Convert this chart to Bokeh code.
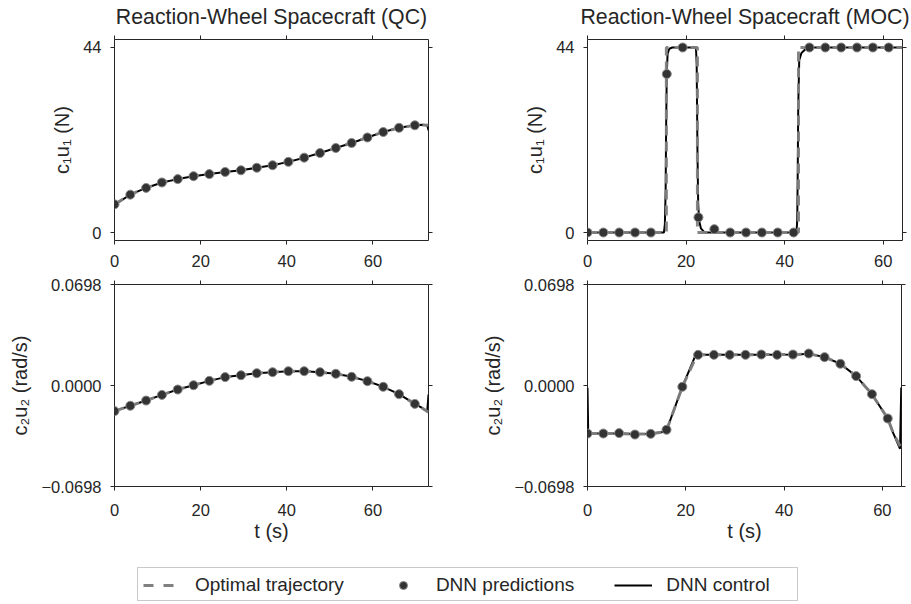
from bokeh.plotting import figure
from bokeh.layouts import column, row
from bokeh.models import (Range1d, FixedTicker, LinearAxis, Legend, LegendItem,
                          CustomLabelingPolicy, BoxAnnotation)
from bokeh.embed import file_html
from bokeh.resources import INLINE

TEXT = "#262626"
FONT = "Liberation Sans"
OPT_COLOR = "#808080"
PRED_FILL = "#333333"
PRED_EDGE = "#8a8a8a"

# ---------------- data ----------------
# QC (quadratic cost)
qc_t_pred = [0.0, 3.67, 7.34, 11.01, 14.68, 18.35, 22.02, 25.69, 29.36, 33.03,
             36.7, 40.37, 44.04, 47.71, 51.38, 55.05, 58.72, 62.39, 66.06, 69.73]
qc_u1_pred = [6.7, 9.0, 10.6, 11.9, 12.7, 13.4, 13.9, 14.4, 14.8, 15.4,
              16.0, 16.8, 17.8, 18.9, 20.1, 21.3, 22.6, 23.9, 24.9, 25.5]
qc_u2_pred = [-0.0177, -0.0140, -0.0104, -0.0065, -0.0028, 0.0002, 0.0032, 0.0058, 0.0071, 0.0085,
              0.0092, 0.0099, 0.0099, 0.0092, 0.0081, 0.0060, 0.0030, -0.0009, -0.0060, -0.0127]

qc_t_opt = [0.0, 3.67, 7.34, 11.01, 14.68, 18.35, 22.02, 25.69, 29.36, 33.03,
            36.7, 40.37, 44.04, 47.71, 51.38, 55.05, 58.72, 62.39, 66.06, 69.73, 71.4, 72.9]
qc_u1_opt = [6.7, 9.0, 10.6, 11.9, 12.7, 13.4, 13.9, 14.4, 14.8, 15.4,
             16.0, 16.8, 17.8, 18.9, 20.1, 21.3, 22.6, 23.9, 24.9, 25.5, 25.6, 25.5]
qc_u2_opt = [-0.0177, -0.0140, -0.0104, -0.0065, -0.0028, 0.0002, 0.0032, 0.0058, 0.0071, 0.0085,
             0.0092, 0.0099, 0.0099, 0.0092, 0.0081, 0.0060, 0.0030, -0.0009, -0.0060, -0.0127,
             -0.0155, -0.0184]

qc_t_ctrl = [0.0, 3.67, 7.34, 11.01, 14.68, 18.35, 22.02, 25.69, 29.36, 33.03,
             36.7, 40.37, 44.04, 47.71, 51.38, 55.05, 58.72, 62.39, 66.06, 69.73, 71.4, 72.6, 72.9]
qc_u1_ctrl = [6.6, 9.0, 10.6, 11.9, 12.7, 13.4, 13.9, 14.4, 14.8, 15.4,
              16.0, 16.8, 17.8, 18.9, 20.1, 21.3, 22.6, 23.9, 24.9, 25.5, 25.6, 25.5, 24.3]
qc_u2_ctrl = [-0.0177, -0.0140, -0.0104, -0.0065, -0.0028, 0.0002, 0.0032, 0.0058, 0.0071, 0.0085,
              0.0092, 0.0099, 0.0099, 0.0092, 0.0081, 0.0060, 0.0030, -0.0009, -0.0060, -0.0127,
              -0.0155, -0.0180, -0.0062]

# MOC
moc_t_pred = [0.0, 3.22, 6.43, 9.65, 12.86, 16.08, 19.3, 22.51, 25.73, 28.94,
              32.16, 35.38, 38.59, 41.81, 45.02, 48.24, 51.46, 54.67, 57.89, 61.1]
moc_u1_pred = [0.0, 0.0, 0.0, 0.0, 0.0, 37.7, 44.0, 3.6, 0.8, 0.0,
               0.0, 0.0, 0.0, 0.0, 44.0, 44.0, 44.0, 44.0, 44.0, 44.0]
moc_u2_pred = [-0.0332, -0.0332, -0.0329, -0.0339, -0.0334, -0.0306, -0.0009, 0.0212, 0.0212, 0.0212,
               0.0212, 0.0214, 0.0212, 0.0214, 0.0221, 0.0196, 0.0150, 0.0065, -0.0060, -0.0228]

moc_t1_opt = [0.0, 16.0, 16.0, 22.3, 22.3, 42.8, 42.8, 63.9]
moc_u1_opt = [0.0, 0.0, 44.0, 44.0, 0.0, 0.0, 44.0, 44.0]
moc_t1_ctrl = [0.0, 15.5, 15.7, 15.85, 15.95, 16.08, 16.25, 16.6, 17.2, 22.0, 22.15, 22.3, 22.45,
               22.65, 23.0, 23.6, 24.2, 42.4, 42.55, 42.65, 42.75, 42.95, 43.4, 44.3, 45.2, 63.9]
moc_u1_ctrl = [0.0, 0.0, 2.0, 10.0, 25.0, 37.7, 42.5, 43.7, 44.0, 44.0, 40.0, 20.0, 7.0,
               2.8, 1.0, 0.2, 0.0, 0.0, 3.0, 15.0, 30.0, 41.0, 42.7, 43.7, 44.0, 44.0]

moc_t2_opt = [0.0, 6.43, 9.65, 12.86, 16.0, 19.3, 22.3, 28.94, 35.38, 42.8, 45.02,
              48.24, 51.46, 54.67, 57.89, 61.1, 62.2, 63.9]
moc_u2_opt = [-0.0332, -0.0332, -0.0336, -0.0334, -0.0318, -0.0009, 0.0212, 0.0212, 0.0213, 0.0215, 0.0219,
              0.0196, 0.0150, 0.0065, -0.0060, -0.0228, -0.0327, -0.0437]
moc_t2_ctrl = [0.0, 0.15, 6.43, 9.65, 12.86, 16.0, 19.3, 21.8, 22.6, 28.94, 35.38, 42.8, 45.02,
               48.24, 51.46, 54.67, 57.89, 61.1, 62.2, 63.6, 63.85]
moc_u2_ctrl = [-0.0015, -0.0332, -0.0332, -0.0336, -0.0334, -0.0318, -0.0009, 0.0195, 0.0212, 0.0212,
               0.0213, 0.0215, 0.0219, 0.0196, 0.0150, 0.0065, -0.0060, -0.0228, -0.0327, -0.0437, -0.0014]

x_ticks = [0, 20, 40, 60]
u1_ticks = [0, 44]
u2_ticks = [-0.0698, 0.0, 0.0698]
u2_tick_labels = {-0.0698: "\u22120.0698", 0.0: "0.0000", 0.0698: "0.0698"}

legend_labels = ["Optimal trajectory", "DNN predictions", "DNN control"]


def no_labels():
    return CustomLabelingPolicy(code="for (const i of indices) { indices.unset(i) }\nreturn indices")


def style_axis(ax, labels=True, xstandoff=None):
    ax.axis_line_color = None
    ax.major_tick_line_color = TEXT
    ax.major_tick_line_width = 1
    ax.major_tick_out = 4
    ax.major_tick_in = 0
    ax.minor_tick_line_color = None
    ax.major_label_text_font = FONT
    ax.major_label_text_color = TEXT
    if labels:
        ax.major_label_text_font_size = "16.5px"
        ax.major_label_standoff = xstandoff if xstandoff is not None else 9
    else:
        ax.major_label_text_font_size = "1px"
        ax.major_label_standoff = 0
        ax.major_label_policy = no_labels()
    ax.axis_label_text_font = FONT
    ax.axis_label_text_font_size = "20px"
    ax.axis_label_text_font_style = "normal"
    ax.axis_label_text_color = TEXT
    ax.axis_label_standoff = 1 if xstandoff is not None else 7


def panel(xr, yr, yticks, w, h, mbl, mbr, mbt, mbb, xstandoff, title=None, ylabel=None,
          xlabel=None, ylabels_override=None):
    p = figure(width=w, height=h, x_range=Range1d(*xr), y_range=Range1d(*yr),
               output_backend="svg", toolbar_location=None,
               min_border_left=mbl, min_border_right=mbr, min_border_top=mbt, min_border_bottom=mbb,
               title=title)
    p.grid.visible = False
    p.outline_line_color = TEXT
    p.outline_line_width = 1
    p.outline_line_alpha = 1
    p.xaxis.ticker = FixedTicker(ticks=x_ticks)
    p.yaxis.ticker = FixedTicker(ticks=yticks)
    for ax in p.xaxis:
        style_axis(ax, xstandoff=xstandoff)
    for ax in p.yaxis:
        style_axis(ax)
    if ylabels_override:
        p.yaxis.major_label_overrides = ylabels_override
    if ylabel:
        p.yaxis.axis_label = ylabel
    if xlabel:
        p.xaxis.axis_label = xlabel
    top = LinearAxis(ticker=FixedTicker(ticks=x_ticks))
    style_axis(top, labels=False)
    p.add_layout(top, "above")
    right = LinearAxis(ticker=FixedTicker(ticks=yticks))
    style_axis(right, labels=False)
    p.add_layout(right, "right")
    if title:
        p.title.text_font = FONT
        p.title.text_font_size = "21.3px"
        p.title.text_font_style = "normal"
        p.title.text_color = TEXT
        p.title.align = "center"
        p.title.standoff = 5
    return p


def draw(p, t_ctrl, u_ctrl, t_opt, u_opt, t_pred, u_pred):
    p.line(t_ctrl, u_ctrl, line_color="black", line_width=2)
    p.line(t_opt, u_opt, line_color=OPT_COLOR, line_width=3, line_dash="10 6", line_alpha=0.95)
    p.scatter(t_pred, u_pred, size=9, fill_color=PRED_FILL, line_color=PRED_EDGE, line_width=1)


U1_RANGE = (-1.9, 45.9)
U2_RANGE = (-0.0698, 0.0698)
QC_X = (0, 72.9)
MOC_X = (0, 63.9)

tl = panel(QC_X, U1_RANGE, u1_ticks, 473, 276, 114, 45, 39, 36, 10,
           title="Reaction-Wheel Spacecraft (QC)", ylabel="c\u2081u\u2081 (N)")
draw(tl, qc_t_ctrl, qc_u1_ctrl, qc_t_opt, qc_u1_opt, qc_t_pred, qc_u1_pred)

tr = panel(MOC_X, U1_RANGE, u1_ticks, 438, 276, 114, 9, 39, 36, 10,
           title="Reaction-Wheel Spacecraft (MOC)", ylabel="c\u2081u\u2081 (N)")
draw(tr, moc_t1_ctrl, moc_u1_ctrl, moc_t1_opt, moc_u1_opt, moc_t_pred, moc_u1_pred)

bl = panel(QC_X, U2_RANGE, u2_ticks, 473, 274, 114, 45, 8, 64, 13,
           ylabel="c\u2082u\u2082 (rad/s)", xlabel="t (s)", ylabels_override=u2_tick_labels)
draw(bl, qc_t_ctrl, qc_u2_ctrl, qc_t_opt, qc_u2_opt, qc_t_pred, qc_u2_pred)

br = panel(MOC_X, U2_RANGE, u2_ticks, 438, 274, 114, 9, 8, 64, 13,
           ylabel="c\u2082u\u2082 (rad/s)", xlabel="t (s)", ylabels_override=u2_tick_labels)
draw(br, moc_t2_ctrl, moc_u2_ctrl, moc_t2_opt, moc_u2_opt, moc_t_pred, moc_u2_pred)

# legend strip (its ranges are pixel-sized so the frame box lines up)
LG_W, LG_H = 911, 54
lg = figure(width=LG_W, height=LG_H, x_range=Range1d(0, LG_W), y_range=Range1d(0, LG_H),
            output_backend="svg", toolbar_location=None, min_border=0,
            x_axis_type=None, y_axis_type=None)
lg.grid.visible = False
lg.outline_line_color = None
# proxy renderers placed outside the visible range, used only for the legend glyphs
r_opt = lg.line([-20, -10], [-20, -10], line_color=OPT_COLOR, line_width=3, line_dash="10 10")
r_pred = lg.scatter([-20], [-20], size=9, fill_color=PRED_FILL, line_color=PRED_EDGE, line_width=1)
r_ctrl = lg.line([-20, -10], [-20, -10], line_color="black", line_width=2)
leg = Legend(items=[LegendItem(label=legend_labels[0], renderers=[r_opt]),
                    LegendItem(label=legend_labels[1], renderers=[r_pred]),
                    LegendItem(label=legend_labels[2], renderers=[r_ctrl])],
             orientation="horizontal", location=(143, 8))
leg.label_text_font = FONT
leg.label_text_font_size = "19px"
leg.label_text_color = TEXT
leg.glyph_width = 38
leg.label_standoff = 14
leg.spacing = 40
leg.padding = 5
leg.margin = 0
leg.border_line_color = None
leg.background_fill_alpha = 0
lg.add_layout(leg, "center")
lg.add_layout(BoxAnnotation(left=137, right=797, bottom=4, top=37,
                            fill_alpha=0, line_color="#4d4d4d", line_width=1))

layout = column(row(tl, tr), row(bl, br), lg)
open("out.html", "w").write(file_html(layout, INLINE))
